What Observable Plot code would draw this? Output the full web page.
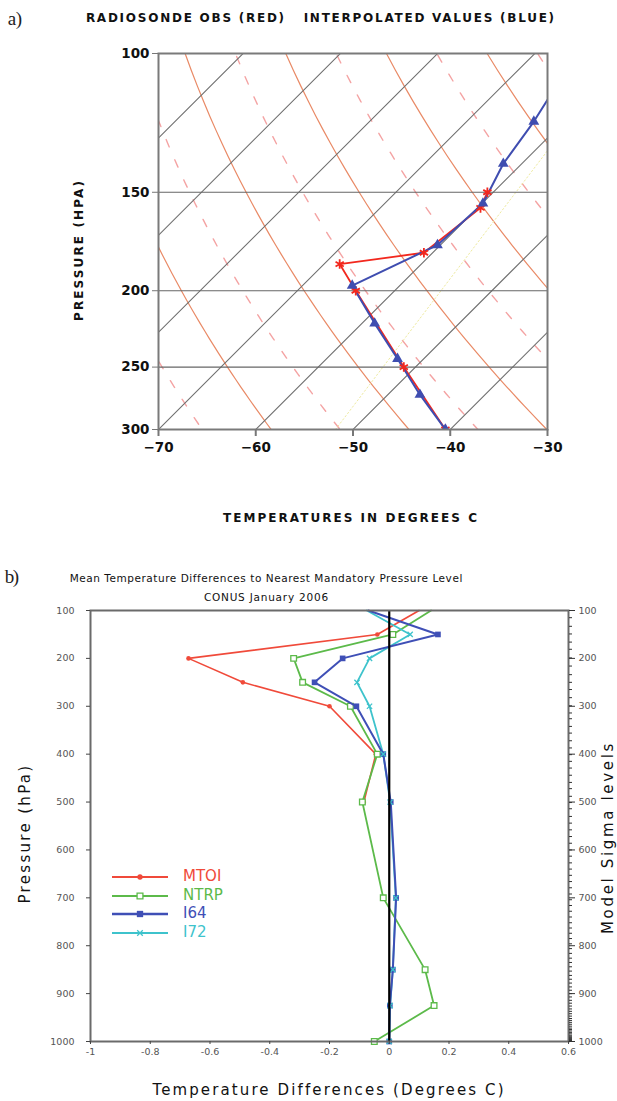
<!DOCTYPE html>
<html><head><meta charset="utf-8">
<script src="https://cdn.jsdelivr.net/npm/d3@7"></script>
<script src="https://cdn.jsdelivr.net/npm/@observablehq/plot@0.6"></script>
<style>
body{margin:0;background:#fff;}
#wrap{position:relative;width:617px;height:1101px;overflow:hidden;background:#fff;}
.abs{position:absolute;white-space:pre;line-height:1;}
.panel{position:absolute;left:0;}
</style></head>
<body><div id="wrap"></div>
<script>
// ---------------- Panel a data (skew-T) ----------------
const obsP = [150, 157, 179, 185, 200, 250, 300];
const obsT = [-60.6, -59.7, -60.9, -68.4, -64.0, -51.2, -40.5];
const intP = [108, 122, 138, 155, 175, 197, 220, 244, 271, 300];
const intT = [-64.7, -63.1, -61.9, -59.9, -60.3, -64.9, -58.7, -52.7, -46.7, -40.5];
const pTicksA = [100, 150, 200, 250, 300];
const tTicksA = [-70, -60, -50, -40, -30];
const isotherms = [-110, -100, -90, -80, -70, -60, -50, -40, -30];
const thetaSolid = [283, 303, 323, 343, 363, 383, 403];
const thetaDashed = [273, 293, 313, 333, 353, 373, 393, 413];
const mixT = [-51.8, -58.7];
const mixP = [300, 132.8];

// ---------------- Panel b data ----------------
const levels = [100, 150, 200, 250, 300, 400, 500, 700, 850, 925, 1000];
const mtoi = [0.10, -0.04, -0.672, -0.49, -0.20, -0.045, -0.085];
const ntrp = [0.14, 0.012, -0.32, -0.29, -0.13, -0.04, -0.09, -0.02, 0.12, 0.15, -0.05];
const i64  = [-0.07, 0.163, -0.156, -0.25, -0.11, -0.02, 0.005, 0.023, 0.012, 0.002, 0.0];
const i72  = [-0.075, 0.07, -0.066, -0.108, -0.066, -0.02, 0.003, 0.022, 0.012, 0.003, 0.0];
const seriesNames = ["MTOI", "NTRP", "I64", "I72"];
const pTicksB = [100, 200, 300, 400, 500, 600, 700, 800, 900, 1000];
const xTicksB = [-1, -0.8, -0.6, -0.4, -0.2, 0, 0.2, 0.4, 0.6];
const sigmaLevels = [115,133,149,166,181,199,216,234,250,265,282,299,314,326,342,356,372,387,401,415,429,444,459,472,488,501,514,530,544,558,572,586,600,613,627,640,653,666,679,692,704,716,728,740,752,763,774,785,796,806,816,826,835,844,853,862,870,878,886,893,900,907,914,920,926,932,937,942,947,952,956,960,964,968,972,975,978,981,984,987,990,992,994,996,998];

const wrap = document.getElementById("wrap");

// skew-T helpers
const SKEW = 38.7; // degrees C shift from 300 hPa to 100 hPa
const skew = p => SKEW * Math.log(300 / p) / Math.log(3);
const presGrid = d3.range(95, 310, 5);
const adiabatT = (theta, p) => theta * Math.pow(p / 1000, 0.286) - 273.15;

const isoRows = isotherms.flatMap(T => [95, 310].map(p => ({T, p, x: T + skew(p)})));
const solidRows = thetaSolid.flatMap(th => presGrid.map(p => ({th, p, x: adiabatT(th, p) + skew(p)})));
const dashRows = thetaDashed.flatMap(th => presGrid.map(p => ({th, p, x: adiabatT(th, p) + skew(p)})));
const mixRows = mixT.map((T, i) => ({p: mixP[i], x: T + skew(mixP[i])}));
const obsRows = obsT.map((T, i) => ({p: obsP[i], x: T + skew(obsP[i])}));
const intRows = intT.map((T, i) => ({p: intP[i], x: T + skew(intP[i])}));

const RED = "#f2281e", BLUE = "#3f4db0";

const plotA = Plot.plot({
  width: 617, height: 430,
  marginTop: 13, marginBottom: 41, marginLeft: 158, marginRight: 70,
  x: {domain: [-70, -30]},
  y: {type: "log", domain: [300, 100]},
  style: {fontFamily: "DejaVu Sans", fontSize: "13.5px", fontWeight: "bold", color: "#111", background: "white", overflow: "visible"},
  marks: [
    Plot.line(dashRows, {x: "x", y: "p", z: "th", stroke: "#f4a3a3", strokeWidth: 1.4, strokeDasharray: "8,14", clip: true}),
    Plot.line(solidRows, {x: "x", y: "p", z: "th", stroke: "#e98a66", strokeWidth: 1.2, clip: true}),
    Plot.line(isoRows, {x: "x", y: "p", z: "T", stroke: "#707070", strokeWidth: 1.1, clip: true}),
    Plot.line(mixRows, {x: "x", y: "p", stroke: "#eeeaa0", strokeWidth: 1, strokeDasharray: "1.5,2.5", clip: true}),
    Plot.ruleY([150, 200, 250], {stroke: "#666", strokeWidth: 1.2}),
    Plot.line(obsRows, {x: "x", y: "p", stroke: RED, strokeWidth: 1.8, clip: true}),
    Plot.line(intRows, {x: "x", y: "p", stroke: BLUE, strokeWidth: 2, clip: true}),
    Plot.dot(obsRows, {x: "x", y: "p", symbol: "asterisk", stroke: RED, strokeWidth: 1.8, r: 4.5, clip: true}),
    Plot.dot(intRows, {x: "x", y: "p", symbol: "triangle", fill: BLUE, r: 4, clip: true}),
    Plot.frame({stroke: "#7a7a7a", strokeWidth: 2}),
    Plot.axisX({ticks: tTicksA, tickSize: 7, tickPadding: 6, label: null, stroke: "#777", strokeWidth: 2}),
    Plot.axisY({ticks: pTicksA, tickFormat: d => String(d), tickSize: 6, tickPadding: 3, label: null, stroke: "#777"})
  ]
});
const divA = document.createElement("div");
divA.className = "panel"; divA.style.top = "40px";
divA.appendChild(plotA); wrap.appendChild(divA);

// ---------- Panel b ----------
const COL = {MTOI: "#f04a3a", NTRP: "#5cba4a", I64: "#3f4fb6", I72: "#3ec3cc"};
const rowsFor = (name, vals) => vals.map((v, i) => ({name, p: levels[i], v}));
const dM = rowsFor("MTOI", mtoi), dN = rowsFor("NTRP", ntrp), d64 = rowsFor("I64", i64), d72 = rowsFor("I72", i72);
const inner = d => d.p > 100;

const plotB = Plot.plot({
  width: 617, height: 470,
  marginTop: 10, marginBottom: 29, marginLeft: 90, marginRight: 49,
  x: {domain: [-1, 0.6]},
  y: {domain: [1000, 100]},
  style: {fontFamily: "DejaVu Sans", fontSize: "9.5px", color: "#555", background: "white", overflow: "visible"},
  marks: [
    Plot.line(dM, {x: "v", y: "p", stroke: COL.MTOI, strokeWidth: 1.6}),
    Plot.dot(dM.filter(inner), {x: "v", y: "p", fill: COL.MTOI, r: 2.3}),
    Plot.line(dN, {x: "v", y: "p", stroke: COL.NTRP, strokeWidth: 1.8}),
    Plot.dot(dN.filter(inner), {x: "v", y: "p", symbol: "square", stroke: COL.NTRP, fill: "white", strokeWidth: 1.3, r: 3.2}),
    Plot.line(d72, {x: "v", y: "p", stroke: COL.I72, strokeWidth: 1.8}),
    Plot.line(d64, {x: "v", y: "p", stroke: COL.I64, strokeWidth: 2}),
    Plot.dot(d64.filter(inner), {x: "v", y: "p", symbol: "square", fill: COL.I64, r: 3.2}),
    Plot.dot(d72.filter(inner), {x: "v", y: "p", symbol: "times", stroke: COL.I72, strokeWidth: 1.3, r: 2.5}),
    Plot.ruleX([0], {stroke: "#000", strokeWidth: 2.2}),
    Plot.frame({stroke: "#6a6a6a", strokeWidth: 2}),
    Plot.axisX({ticks: xTicksB, tickFormat: d => String(d), tickSize: 3, tickPadding: 4, label: null, stroke: "#444"}),
    Plot.axisY({anchor: "left", ticks: pTicksB, tickFormat: d => String(d), tickSize: 4, tickPadding: 12, label: null, stroke: "#444"}),
    Plot.axisY({anchor: "right", ticks: pTicksB, tickFormat: d => String(d), tickSize: 6, tickPadding: 4, label: null, stroke: "#333"}),
    Plot.axisY({anchor: "right", ticks: sigmaLevels, tickFormat: () => "", tickSize: 3, label: null, stroke: "#333"})
  ]
});
const divB = document.createElement("div");
divB.className = "panel"; divB.style.top = "600px";
divB.appendChild(plotB); wrap.appendChild(divB);

// ---------- Legend (panel b) ----------
const legTop = 877, legStep = 18.7;
seriesNames.forEach((name, i) => {
  const y = legTop + i * legStep;
  const svg = d3.create("svg").attr("width", 60).attr("height", 12)
    .style("position", "absolute").style("left", "110px").style("top", (y - 6) + "px");
  svg.append("line").attr("x1", 2).attr("x2", 58).attr("y1", 6).attr("y2", 6)
    .attr("stroke", COL[name]).attr("stroke-width", name === "I64" ? 2.4 : 1.8);
  const sym = {MTOI: d3.symbolCircle, NTRP: d3.symbolSquare, I64: d3.symbolSquare, I72: d3.symbolTimes}[name];
  const size = {MTOI: 22, NTRP: 34, I64: 40, I72: 22}[name];
  const path = svg.append("path").attr("d", d3.symbol(sym, size)()).attr("transform", "translate(30,6)");
  if (name === "NTRP") path.attr("fill", "white").attr("stroke", COL[name]).attr("stroke-width", 1.3);
  else if (name === "I72") path.attr("fill", "none").attr("stroke", COL[name]).attr("stroke-width", 1.3);
  else path.attr("fill", COL[name]);
  wrap.appendChild(svg.node());
  const t = document.createElement("div");
  t.className = "abs"; t.textContent = name;
  Object.assign(t.style, {left: "183px", top: (y - 8) + "px", fontFamily: "DejaVu Sans", fontSize: "15px", color: COL[name]});
  wrap.appendChild(t);
});

// ---------- Text helpers ----------
function label(txt, cx, cy, w, style, rot) {
  const d = document.createElement("div");
  d.className = "abs"; d.textContent = txt;
  Object.assign(d.style, style);
  wrap.appendChild(d);
  let r = d.getBoundingClientRect();
  const ls = (w - r.width) / txt.length;
  d.style.letterSpacing = ls + "px";
  r = d.getBoundingClientRect();
  d.style.left = (cx - r.width / 2 + ls / 2) + "px";
  d.style.top = (cy - r.height / 2) + "px";
  if (rot) d.style.transform = "rotate(" + rot + "deg)";
  return d;
}
const blocky = {fontFamily: "DejaVu Sans", fontWeight: "bold", fontSize: "12px", color: "#111"};
const plain = {fontFamily: "DejaVu Sans", color: "#111"};

label("a)", 15, 18, 14, {fontFamily: "Liberation Serif", fontSize: "19px", color: "#222"});
label("RADIOSONDE OBS (RED)   INTERPOLATED VALUES (BLUE)", 320, 18, 470, blocky);
label("PRESSURE (HPA)", 78, 250, 142, blocky, -90);
label("TEMPERATURES IN DEGREES C", 350, 518, 256, blocky);

label("b)", 12, 576, 13, {fontFamily: "Liberation Serif", fontSize: "19px", color: "#222"});
label("Mean Temperature Differences to Nearest Mandatory Pressure Level", 266, 578, 393, Object.assign({}, plain, {fontSize: "10.5px"}));
label("CONUS January 2006", 266, 597, 125, Object.assign({}, plain, {fontSize: "10.5px"}));
label("Pressure (hPa)", 24, 833, 140, Object.assign({}, plain, {fontSize: "15px"}), -90);
label("Model Sigma levels", 607, 837, 193, Object.assign({}, plain, {fontSize: "15px"}), -90);
label("Temperature Differences (Degrees C)", 328, 1090, 353, Object.assign({}, plain, {fontSize: "15px"}));
</script>
</body></html>
